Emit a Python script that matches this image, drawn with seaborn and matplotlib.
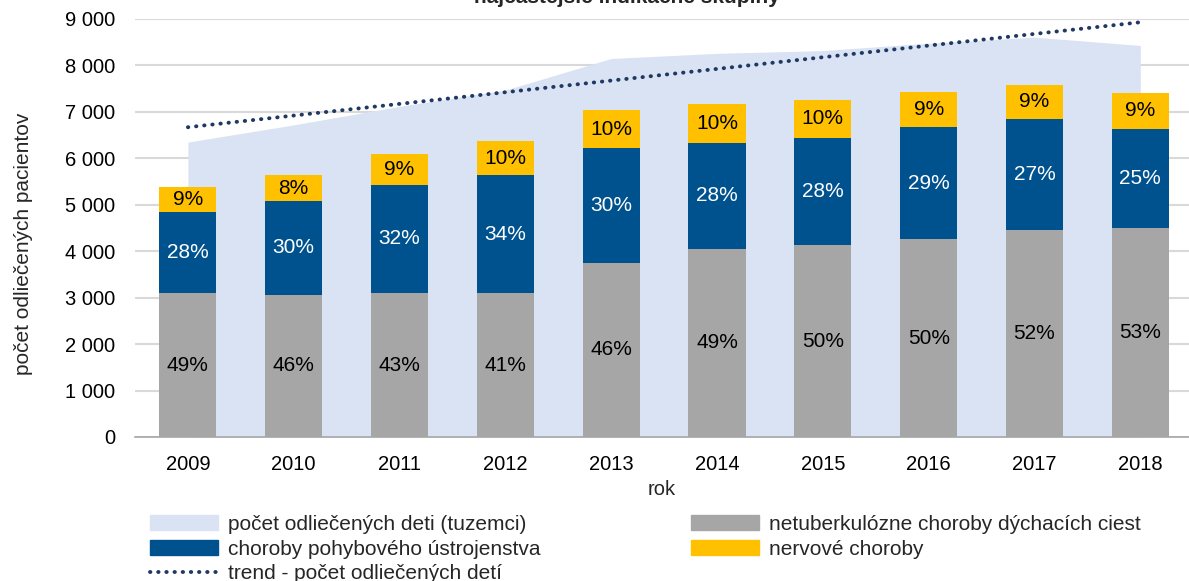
import matplotlib
matplotlib.use("Agg")
import matplotlib.pyplot as plt
import seaborn as sns
import pandas as pd
import numpy as np
from matplotlib.patches import Patch
from matplotlib.lines import Line2D
from matplotlib.ticker import FuncFormatter

# data
years = ["2009", "2010", "2011", "2012", "2013", "2014", "2015", "2016", "2017", "2018"]
children_total = [6350, 6720, 7120, 7470, 8150, 8260, 8320, 8480, 8610, 8430]
respiratory = [3100, 3060, 3100, 3100, 3750, 4050, 4130, 4260, 4460, 4500]
musculoskeletal = [1745, 2020, 2330, 2540, 2470, 2280, 2310, 2415, 2390, 2130]
nervous = [535, 560, 660, 730, 820, 840, 820, 755, 730, 780]
trend_ends = [6670, 8930]

resp_pct = ["49%", "46%", "43%", "41%", "46%", "49%", "50%", "50%", "52%", "53%"]
musc_pct = ["28%", "30%", "32%", "34%", "30%", "28%", "28%", "29%", "27%", "25%"]
nerv_pct = ["9%", "8%", "9%", "10%", "10%", "10%", "10%", "9%", "9%", "9%"]

c_area = "#dae3f3"
c_gray = "#a6a6a6"
c_blue = "#00528f"
c_yellow = "#ffc000"
c_trend = "#1f3864"

sns.set_style("white")
plt.rcParams["font.family"] = ["Liberation Sans", "DejaVu Sans"]

df = pd.DataFrame({"rok": years, "resp": respiratory, "musc": musculoskeletal, "nerv": nervous})
df["s1"] = df["resp"]
df["s2"] = df["resp"] + df["musc"]
df["s3"] = df["s2"] + df["nerv"]

fig = plt.figure(figsize=(11.89, 5.81), dpi=100)
ax = fig.add_axes([135 / 1189, 144 / 581, 1 - 135 / 1189, 418 / 581])

x = np.arange(len(years))
ax.fill_between(x, children_total, color=c_area, lw=0, zorder=1)

bw = 0.54
for col, c, z in [("s3", c_yellow, 2), ("s2", c_blue, 3), ("s1", c_gray, 4)]:
    sns.barplot(data=df, x="rok", y=col, color=c, saturation=1, width=bw, ax=ax,
                linewidth=0, edgecolor="none", zorder=z)

ax.plot([x[0], x[-1]], trend_ends, color=c_trend, lw=2.8,
        linestyle=(0, (0.1, 2.0)), dash_capstyle="round", zorder=5)

fs = 15
for i in range(len(years)):
    ax.text(i, df["s1"][i] / 2, resp_pct[i], ha="center", va="center", fontsize=fs, color="black", zorder=6)
    ax.text(i, (df["s1"][i] + df["s2"][i]) / 2, musc_pct[i], ha="center", va="center", fontsize=fs, color="white", zorder=6)
    ax.text(i, (df["s2"][i] + df["s3"][i]) / 2, nerv_pct[i], ha="center", va="center", fontsize=fs, color="black", zorder=6)

ax.set_ylim(0, 9000)
ax.set_xlim(-0.5, 9.46)
ax.set_yticks(range(0, 9001, 1000))
ax.yaxis.set_major_formatter(FuncFormatter(lambda v, p: f"{int(v):,}".replace(",", " ")))
ax.grid(axis="y", color="#d9d9d9", lw=1.5, zorder=0)
ax.set_axisbelow(True)
for s in ax.spines.values():
    s.set_visible(False)
ax.spines["bottom"].set_visible(True)
ax.spines["bottom"].set_color("#a6a6a6")
ax.spines["bottom"].set_linewidth(1.2)
ax.spines["bottom"].set_zorder(7)
ax.tick_params(axis="both", length=0, labelsize=14.5, colors="black")
ax.tick_params(axis="y", pad=14)
ax.tick_params(axis="x", pad=13)
ax.set_xlabel("rok", fontsize=14.5, labelpad=4)
ax.set_ylabel("počet odliečených pacientov", fontsize=15)
ax.yaxis.set_label_coords(-0.097, 0.462)

fig.text(0.527, 1 - 3 / 581, "najčastejšie indikačné skupiny", ha="center", va="baseline",
         fontsize=15, fontweight="bold")

handles = [
    Patch(color=c_area, label="počet odliečených deti (tuzemci)"),
    Patch(color=c_blue, label="choroby pohybového ústrojenstva"),
    Line2D([], [], color=c_trend, lw=2.8, linestyle=(0, (0.1, 2.0)), dash_capstyle="round",
           label="trend - počet odliečených detí"),
    Patch(color=c_gray, label="netuberkulózne choroby dýchacích ciest"),
    Patch(color=c_yellow, label="nervové choroby"),
]
fig.legend(handles=handles, ncol=2, loc="upper left", bbox_to_anchor=(150 / 1189, 1 - 515 / 581),
           frameon=False, fontsize=15, handlelength=3.27, handleheight=0.7, handletextpad=0.48,
           labelspacing=0.27, columnspacing=7.2, borderpad=0, borderaxespad=0)

fig.savefig("out.png", dpi=100)
